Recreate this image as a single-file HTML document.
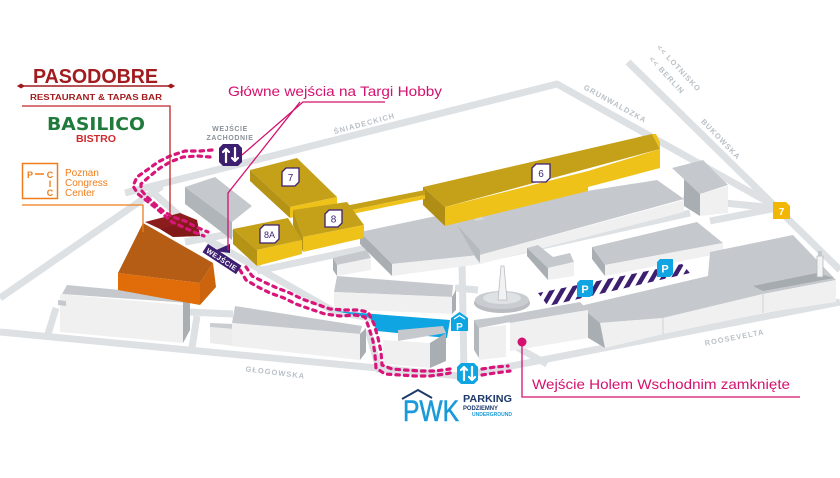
<!DOCTYPE html>
<html><head><meta charset="utf-8"><style>
html,body{margin:0;padding:0;background:#fff;}
svg{display:block;}
</style></head><body>
<svg width="840" height="478" viewBox="0 0 840 478" xmlns="http://www.w3.org/2000/svg" font-family="'Liberation Sans', sans-serif">
<defs>
<pattern id="hatch" patternUnits="userSpaceOnUse" width="9" height="9" patternTransform="rotate(30)">
<rect width="9" height="9" fill="#fff"/>
<rect width="4.5" height="9" fill="#3d1f70"/>
</pattern>
</defs>
<rect width="840" height="478" fill="#fff"/>

<!-- ROADS -->
<g fill="none" stroke="#dde1e4" stroke-width="7" stroke-linejoin="round">
<polyline points="0,298 162,186"/>
<polyline points="125,193 557,84 775,206"/>
<polyline points="628,62 840,270"/>
<polyline points="0,332 460,376 840,302"/>
<polyline points="150,190 205,238 335,312 372,318"/>
<polyline points="185,242 235,233"/>
<polyline points="257,271 367,248 456,229"/>
<polyline points="188,312 233,314"/>
<polyline points="197,316 192,348"/>
<polyline points="48,334 56,308"/>
<polyline points="368,330 380,372"/>
<polyline points="462,262 464,372"/>
<polyline points="513,345 547,364"/>
<polyline points="683,199 775,208"/>
<polyline points="710,221 777,208"/>
<polyline points="470,262 690,213"/>
<polyline points="455,288 478,290"/>
</g>

<!-- road labels -->
<g font-size="7.5" font-weight="bold" fill="#b9c0c6" text-anchor="middle" letter-spacing="1">
<text transform="translate(365,126) rotate(-15)">ŚNIADECKICH</text>
<text transform="translate(614,106) rotate(29)">GRUNWALDZKA</text>
<text transform="translate(677,70) rotate(47)">&lt;&lt; LOTNISKO</text>
<text transform="translate(665,77) rotate(47)">&lt;&lt; BERLIN</text>
<text transform="translate(719,141) rotate(46)">BUKOWSKA</text>
<text transform="translate(735,340) rotate(-11)">ROOSEVELTA</text>
<text transform="translate(275,375) rotate(7)">GŁOGOWSKA</text>
</g>

<!-- GRAY BUILDINGS -->
<!-- G1 -->
<polygon points="185,187 215,177 252,206 232,222" fill="#c5c9cd"/>
<polygon points="185,187 232,222 232,240 185,204" fill="#b0b5ba"/>
<!-- G2 -->
<polygon points="67,285 183,296 188,303 62,294" fill="#c5c9cd"/>
<polygon points="60,294 183,305 183,343 60,332" fill="#f0f0f0"/>
<polygon points="58,300 66,301 66,306 58,305" fill="#c5c9cd"/>
<polygon points="183,296 190,303 190,330 183,343" fill="#a9aeb3"/>
<!-- G3 -->
<polygon points="210,327 234,329 234,346 210,343" fill="#ececec"/>
<polygon points="210,323 234,324 234,329 210,327" fill="#c9cdd1"/>
<polygon points="235,306 362,326 360,334 232,323" fill="#c5c9cd"/>
<polygon points="232,323 360,334 360,360 232,346" fill="#f0f0f0"/>
<polygon points="360,334 366,328 366,352 360,360" fill="#a9aeb3"/>
<!-- G5 -->
<polygon points="333,258 367,250 371,258 337,265" fill="#c5c9cd"/>
<polygon points="337,265 371,258 371,270 337,276" fill="#f0f0f0"/>
<polygon points="333,258 337,265 337,276 333,270" fill="#a9aeb3"/>
<!-- G4 -->
<polygon points="337,276 453,285 452,297 334,292" fill="#c5c9cd"/>
<polygon points="334,292 452,297 452,314 334,309" fill="#f0f0f0"/>
<polygon points="452,297 456,290 456,310 452,314" fill="#a9aeb3"/>
<!-- blue parking -->
<polygon points="335,311 450,320 447,338 377,331 370,318" fill="#0ea5e2"/>
<!-- G13 -->
<polygon points="398,330 443,326 446,333 398,341" fill="#c5c9cd"/>
<polygon points="383,340 430,343 430,368 383,364" fill="#f0f0f0"/>
<polygon points="430,343 446,333 446,361 430,368" fill="#a9aeb3"/>
<!-- G6 long -->
<polygon points="360,232 460,211 657,180 684,199 480,255 392,264" fill="#c5c9cd"/>
<polygon points="392,264 480,255 684,200 684,212 480,264 392,276" fill="#f0f0f0"/>
<polygon points="360,232 392,264 392,276 360,244" fill="#a9aeb3"/>
<polygon points="457,225 480,250 480,263 476,258" fill="#b5babe"/>
<!-- connectors -->
<polygon points="586,178 594,176 600,183 592,185" fill="#d5d8db"/>
<polygon points="470,214 478,212 484,219 476,221" fill="#d5d8db"/>
<!-- G7 -->
<polygon points="672,168 703,160 728,185 700,194" fill="#c5c9cd"/>
<polygon points="700,194 728,186 728,213 700,216" fill="#f0f0f0"/>
<polygon points="684,179 700,194 700,216 684,206" fill="#a9aeb3"/>
<!-- small cross block -->
<polygon points="527,248 538,245 553,257 570,253 574,262 548,268" fill="#c5c9cd"/>
<polygon points="548,268 574,262 574,276 548,280" fill="#f0f0f0"/>
<polygon points="527,248 548,268 548,280 527,256" fill="#a9aeb3"/>
<!-- G8 -->
<polygon points="592,247 697,222 723,243 605,265" fill="#c5c9cd"/>
<polygon points="605,265 723,243 723,253 605,276" fill="#f0f0f0"/>
<polygon points="592,247 605,265 605,276 592,259" fill="#a9aeb3"/>
<!-- hatched parking -->
<polygon points="538,293 682,264 690,273 548,306" fill="url(#hatch)"/>
<!-- G9 big right -->
<polygon points="580,306 708,276 710,252 793,235 836,280 763,294 663,318 600,323" fill="#c5c9cd"/>
<polygon points="753,286 817,273 834,278 763,291" fill="#a6abb0"/>
<polygon points="600,323 663,318 663,334 605,348" fill="#f0f0f0"/>
<polygon points="663,318 763,294 763,313 663,334" fill="#f0f0f0"/>
<polygon points="763,294 836,280 836,302 763,313" fill="#f0f0f0"/>
<polygon points="580,306 600,323 605,348 585,336" fill="#a9aeb3"/>
<line x1="663" y1="318" x2="663" y2="334" stroke="#cfd2d5" stroke-width="1"/>
<line x1="763" y1="294" x2="763" y2="313" stroke="#cfd2d5" stroke-width="1"/>
<rect x="817" y="256" width="6" height="21" fill="#f4f4f4" stroke="#b5babe" stroke-width="0.8"/>
<rect x="818" y="251" width="4" height="5" fill="#c5c9cd"/>
<!-- G10 -->
<polygon points="503,316 580,302 588,310 510,323" fill="#c5c9cd"/>
<polygon points="510,323 588,310 588,338 510,351" fill="#f0f0f0"/>
<polygon points="474,320 505,316 510,322 479,328" fill="#c5c9cd"/>
<polygon points="474,320 479,328 479,358 474,350" fill="#b3b8bc"/>
<polygon points="479,328 506,325 506,357 479,360" fill="#f0f0f0"/>
<!-- rotunda -->
<ellipse cx="502" cy="303" rx="28" ry="10" fill="#b9bdc2"/>
<ellipse cx="502" cy="300" rx="27" ry="9" fill="#c9cdd1"/>
<ellipse cx="502" cy="298" rx="19" ry="6" fill="#dfe2e5"/>
<polygon points="501,266 504,266 507,300 498,300" fill="#f2f2f2" stroke="#b9bdc2" stroke-width="0.8"/>

<!-- YELLOW BUILDINGS -->
<!-- 6 -->
<polygon points="423,187 652,134 660,149 445,207" fill="#c5a119"/>
<polygon points="445,207 588,171 588,191 445,226" fill="#efc21a"/>
<polygon points="588,171 660,149 660,168 588,187" fill="#efc21a"/>
<polygon points="423,187 445,207 445,226 423,205" fill="#b08d14"/>
<polygon points="652,134 656,134 660,142 660,149" fill="#efc21a"/>
<!-- connector -->
<polygon points="345,206 425,190 425,195 347,211" fill="#c5a119"/>
<polygon points="347,211 425,195 425,199 347,215" fill="#efc21a"/>
<!-- 7 -->
<polygon points="250,170 297,158 337,197 290,207" fill="#c5a119"/>
<polygon points="290,207 337,197 337,208 290,218" fill="#efc21a"/>
<polygon points="250,170 290,207 290,218 250,181" fill="#b59315"/>
<!-- 8 -->
<polygon points="293,210 347,202 364,225 303,237" fill="#c5a119"/>
<polygon points="303,237 364,225 364,238 303,252" fill="#efc21a"/>
<polygon points="293,210 303,237 303,252 293,225" fill="#b59315"/>
<!-- 8A -->
<polygon points="233,229 288,218 302,240 257,250" fill="#c5a119"/>
<polygon points="257,250 302,240 302,254 257,266" fill="#efc21a"/>
<polygon points="233,229 257,250 257,266 233,244" fill="#b59315"/>

<!-- ORANGE PCC -->
<polygon points="143,223 213,263 200,283 118,273" fill="#b55c15"/>
<polygon points="118,273 200,283 200,305 118,290" fill="#e06d0a"/>
<polygon points="200,283 213,263 216,287 200,305" fill="#cc640d"/>
<polygon points="145,222 180,213 197,220 200,236 173,237 160,229" fill="#8c1d1d"/>
<polygon points="160,229 173,237 200,236 197,220" fill="#7a1818" opacity="0.6"/>

<!-- building tags -->
<g fill="#fff" stroke="#3d1f70" stroke-width="1.3">
<polygon points="286,168 299,168 299,182 295,186 282,186 282,172"/>
<polygon points="329,210 342,210 342,223 338,227 325,227 325,214"/>
<polygon points="264,225 279,225 279,239 275,243 260,243 260,229"/>
<polygon points="536,164 550,164 550,178 546,182 532,182 532,168"/>
</g>
<g fill="#3d1f70" font-size="10" text-anchor="middle">
<text x="290.5" y="181">7</text>
<text x="333.5" y="222.5">8</text>
<text x="269.5" y="238" font-size="9">8A</text>
<text x="541" y="177">6</text>
</g>

<!-- FOOTPRINTS -->
<g fill="none" stroke="#d8167a" stroke-width="3.2" stroke-dasharray="3.5 5" stroke-linecap="round" stroke-linejoin="round">
<polyline points="212,150 200,151 185,151 170,156 158,162 147,170 137,177 133,186 138,194 147,201 156,208 164,215 172,222 183,227 194,232 204,236"/>
<polyline points="210,157 198,156 183,157 170,162 160,168 150,176 141,184 141,190 147,197 155,204 163,211 173,217 185,221 196,227 208,232"/>
<polyline points="240,270 246,280 258,287 270,293 284,298 296,304 310,309 325,314 340,316 355,315 365,317 369,328 373,341 375,355 376,368 385,374 400,375 415,376 430,376 445,374 455,372"/>
<polyline points="246,267 252,276 264,282 277,288 290,293 302,299 316,304 330,309 345,310 358,310 368,312 374,324 378,338 381,352 382,365 392,369 405,370 420,371 435,371 450,369"/>
<polyline points="482,375 495,373 510,371"/>
<polyline points="482,369 495,367 508,366"/>
</g>

<!-- WEJŚCIE label -->
<polygon points="214,251 230,244 230,253" fill="#3d1f70"/>
<g transform="translate(222,259) rotate(33)">
<rect x="-20" y="-5" width="40" height="10" fill="#3d1f70"/>
<text x="0" y="3" font-size="7" font-weight="bold" fill="#fff" text-anchor="middle" letter-spacing="0.5">WEJŚCIE</text>
</g>

<!-- magenta callouts -->
<g fill="none" stroke="#d4116e" stroke-width="1.3">
<polyline points="385,102 303,102 242,155"/>
<polyline points="300,102 228,193 228,250"/>
<polyline points="522,342 522,397 800,397"/>
</g>
<circle cx="522" cy="342" r="4.5" fill="#d4116e"/>
<text x="228" y="96" font-size="14" fill="#d4116e" textLength="214" lengthAdjust="spacingAndGlyphs">Główne wejścia na Targi Hobby</text>
<text x="532" y="389" font-size="14" fill="#d4116e" textLength="258" lengthAdjust="spacingAndGlyphs">Wejście Holem Wschodnim zamknięte</text>

<!-- WEJŚCIE ZACHODNIE -->
<g font-size="7" font-weight="bold" fill="#8a9199" text-anchor="middle" letter-spacing="0.6">
<text x="230" y="131">WEJŚCIE</text>
<text x="230" y="140">ZACHODNIE</text>
</g>
<polygon points="223,144 238,144 242,148 242,162 238,166 223,166 219,162 219,148" fill="#3d1f70"/>
<g stroke="#fff" stroke-width="2.2" fill="none" stroke-linecap="round" stroke-linejoin="round">
<path d="M226,162 V149 M223,152 L226,149 L229,152"/>
<path d="M235,148 V161 M232,158 L235,161 L238,158"/>
</g>

<!-- blue up/down icon -->
<polygon points="461,363 474,363 478,367 478,380 474,384 461,384 457,380 457,367" fill="#0ea5e2"/>
<g stroke="#fff" stroke-width="2.2" fill="none" stroke-linecap="round" stroke-linejoin="round">
<path d="M464,380 V367 M461,370 L464,367 L467,370"/>
<path d="M472,367 V380 M469,377 L472,380 L475,377"/>
</g>

<!-- blue P icons -->
<polygon points="451,318 459.5,312 468,318 468,331 451,331" fill="#0ea5e2"/>
<polyline points="454,319 459.5,315.5 465,319" fill="none" stroke="#fff" stroke-width="1.3"/>
<text x="459.5" y="330" font-size="10" font-weight="bold" fill="#fff" text-anchor="middle">P</text>
<polygon points="580,280 593,280 593,294 590,297 577,297 577,283" fill="#0ea5e2"/>
<text x="585" y="293" font-size="11" font-weight="bold" fill="#fff" text-anchor="middle">P</text>
<polygon points="660,259 673,259 673,274 670,277 657,277 657,262" fill="#0ea5e2"/>
<text x="665" y="272.5" font-size="11" font-weight="bold" fill="#fff" text-anchor="middle">P</text>

<!-- yellow 7 -->
<polygon points="773,202 786,202 790,206 790,219 773,219" fill="#f2b705"/>
<text x="781.5" y="215" font-size="10" font-weight="bold" fill="#fff" text-anchor="middle">7</text>

<!-- PWK logo -->
<polyline points="402,399 418,390 432,398" fill="none" stroke="#1d3a6b" stroke-width="2"/>
<text x="403" y="421" font-size="30" fill="#1a9ad8" textLength="56" lengthAdjust="spacingAndGlyphs" stroke="#1a9ad8" stroke-width="0.6">PWK</text>
<text x="463" y="402" font-size="10.5" font-weight="bold" fill="#1d3a6b" textLength="49" lengthAdjust="spacingAndGlyphs">PARKING</text>
<text x="463" y="410" font-size="6.5" font-weight="bold" fill="#1d3a6b" textLength="35" lengthAdjust="spacingAndGlyphs">PODZIEMNY</text>
<text x="472" y="416" font-size="5" font-weight="bold" fill="#1a9ad8" textLength="40" lengthAdjust="spacingAndGlyphs">UNDERGROUND</text>

<!-- PASODOBRE -->
<text x="33" y="83" font-size="20" font-weight="bold" fill="#a11c1f" textLength="125" lengthAdjust="spacingAndGlyphs">PASODOBRE</text>
<line x1="18" y1="86" x2="174" y2="86" stroke="#a11c1f" stroke-width="1.5"/>
<polygon points="17,86 21,83.5 25,86 21,88.5" fill="#a11c1f"/>
<polygon points="167,86 171,83.5 175,86 171,88.5" fill="#a11c1f"/>
<text x="30" y="100" font-size="8" font-weight="bold" fill="#a11c1f" textLength="132" lengthAdjust="spacingAndGlyphs">RESTAURANT &amp; TAPAS BAR</text>
<polyline points="22,106 170,106 170,215" fill="none" stroke="#c0262a" stroke-width="1.3"/>
<text x="47" y="130" font-size="18" font-weight="bold" fill="#1f7a3c" textLength="98" lengthAdjust="spacingAndGlyphs" font-family="'DejaVu Sans', sans-serif">BASILICO</text>
<text x="76" y="142" font-size="10" font-weight="bold" fill="#d0282b" textLength="40" lengthAdjust="spacingAndGlyphs">BISTRO</text>

<!-- PCC -->
<rect x="22.5" y="163.5" width="35" height="35" fill="none" stroke="#ef7d1b" stroke-width="1.5"/>
<g font-size="9" font-weight="bold" fill="#ef7d1b" text-anchor="middle">
<text x="30" y="178">P</text>
<text x="50" y="178">C</text>
<text x="50" y="187">I</text>
<text x="50" y="196">C</text>
</g>
<line x1="35" y1="174" x2="44" y2="174" stroke="#ef7d1b" stroke-width="1.5"/>
<g font-size="10" fill="#ef7d1b">
<text x="65" y="176">Poznan</text>
<text x="65" y="186">Congress</text>
<text x="65" y="196">Center</text>
</g>
<polyline points="22,205 143,205 143,232" fill="none" stroke="#ef7d1b" stroke-width="1.3"/>
</svg>
</body></html>
